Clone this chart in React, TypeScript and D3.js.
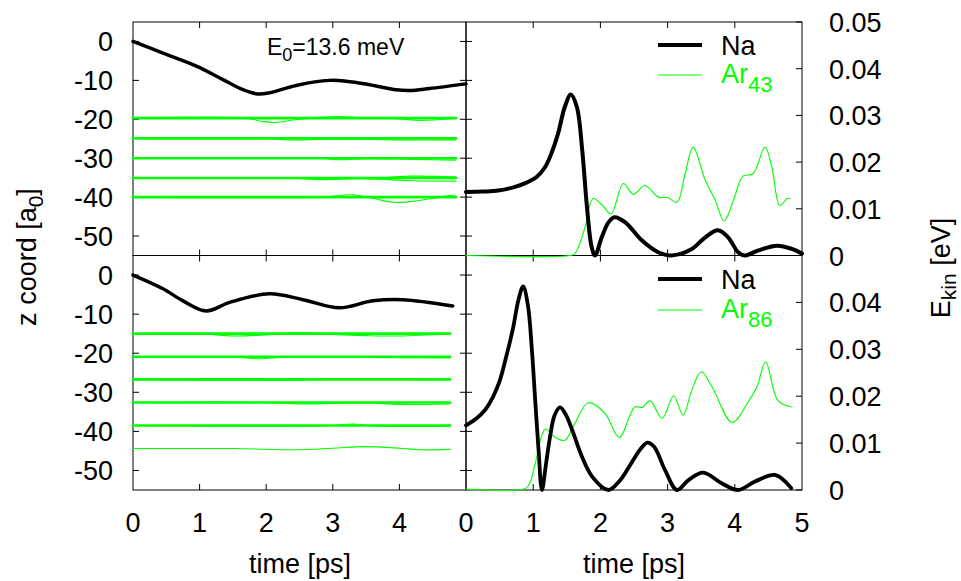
import { useEffect, useRef } from 'react';
import * as d3 from 'd3';

type Pt = [number, number];

// ---- upper row (E0 = 13.6 meV, Ar43) ----
const naZTop: Pt[] = [
  [0, 0], [0.45, -3], [0.96, -6.4], [1.35, -9.8], [1.65, -12.4], [1.87, -13.5],
  [2.05, -13.2], [2.45, -11.3], [2.95, -10], [3.2, -10.2], [3.55, -11.1],
  [3.95, -12.4], [4.15, -12.6], [4.45, -12.1], [5.0, -10.9],
];
const arLayersTop = [-19.7, -24.9, -30.0, -35.1, -40.0];
const arTEndTop = 4.85;
const arWobbleTop: Pt[][] = [
  [[0, -19.7], [1.7, -19.7], [1.95, -20.6], [2.15, -20.8], [2.4, -20.2], [2.8, -19.5], [3.1, -19.3], [3.4, -19.6], [4.0, -19.9], [4.3, -20.3], [4.85, -19.8]],
  [[0, -24.9], [2.0, -24.9], [2.3, -25.3], [3.0, -25.1], [4.0, -25.3], [4.85, -25.3]],
  [[0, -30.0], [2.8, -30.0], [3.1, -30.4], [3.5, -30.1], [4.2, -30.3], [4.85, -30.5]],
  [[0, -35.1], [2.3, -35.1], [2.8, -35.5], [3.5, -35.3], [4.2, -35.8], [4.85, -35.9]],
  [[0, -35.1], [3.5, -35.1], [4.2, -34.6], [4.85, -34.8]],
  [[0, -40.0], [2.8, -40.0], [3.3, -39.4], [3.6, -40.3], [3.9, -41.3], [4.2, -41.1], [4.5, -40.3], [4.75, -39.6], [4.85, -39.8]],
];
const naEkinTop: Pt[] = [
  [0.0, 0.0136], [0.25, 0.0137], [0.48, 0.0139], [0.73, 0.0147], [0.9, 0.0156],
  [1.05, 0.0168], [1.18, 0.019], [1.28, 0.0222], [1.37, 0.0261], [1.47, 0.0318],
  [1.56, 0.0345], [1.65, 0.0318], [1.73, 0.0225], [1.8, 0.0104], [1.87, 0.0018],
  [1.92, 0], [2.02, 0.0039], [2.12, 0.0071], [2.21, 0.0082], [2.37, 0.0071],
  [2.62, 0.0032], [2.86, 0.0007], [3.06, 0], [3.36, 0.0014], [3.56, 0.0039],
  [3.75, 0.0054], [3.9, 0.0039], [4.05, 0.0007], [4.15, 0], [4.35, 0.0011],
  [4.63, 0.0021], [4.85, 0.0014], [5.0, 0.0004],
];
const arEkinTop: Pt[] = [
  [0, 0], [1.55, 0], [1.62, 0.0004], [1.77, 0.006], [1.89, 0.0122], [2.03, 0.0107],
  [2.16, 0.0089], [2.34, 0.0154], [2.49, 0.0131], [2.66, 0.015], [2.86, 0.0125],
  [3.0, 0.0124], [3.14, 0.0114], [3.26, 0.0175], [3.38, 0.0232], [3.56, 0.0161],
  [3.71, 0.0118], [3.84, 0.0074], [3.98, 0.0118], [4.12, 0.017], [4.27, 0.0175],
  [4.45, 0.0232], [4.55, 0.019], [4.67, 0.0107], [4.78, 0.0122], [4.82, 0.0122],
];

// ---- lower row (Ar86) ----
const naZBot: Pt[] = [
  [0, 0], [0.45, -3.5], [0.75, -6.6], [1.1, -9.2], [1.45, -7.0], [2.05, -4.8],
  [2.55, -6.3], [3.1, -8.4], [3.6, -6.6], [4.05, -6.3], [4.8, -7.9],
];
const arLayersBot = [-15.0, -20.9, -26.7, -32.6, -38.5];
const arTEndBot = 4.76;
const arWobbleBot: Pt[][] = [
  [[0, -15], [1.0, -15], [1.5, -15.6], [2.0, -15.3], [2.5, -14.7], [3.0, -15.2], [3.5, -15.5], [4.0, -15.6], [4.76, -15.1]],
  [[0, -20.9], [1.5, -21.0], [1.9, -21.4], [2.3, -21.0], [3.5, -21.1], [4.76, -21.2]],
  [[0, -26.7], [2.5, -26.9], [3.0, -26.6], [4.76, -26.8]],
  [[0, -32.6], [2.0, -32.6], [2.5, -33.0], [3.5, -32.7], [4.0, -33.1], [4.76, -33.0]],
  [[0, -38.5], [3.0, -38.5], [3.3, -38.1], [3.6, -38.6], [4.76, -38.7]],
];
const arLoneBot: Pt[] = [
  [0, -44.4], [1.5, -44.4], [2.5, -44.7], [3.0, -44.3], [3.5, -43.9], [4.0, -44.3], [4.3, -44.7], [4.76, -44.6],
];
const naEkinBot: Pt[] = [
  [0.0, 0.0138], [0.15, 0.0152], [0.28, 0.017], [0.4, 0.0198], [0.5, 0.0232],
  [0.6, 0.0285], [0.7, 0.0345], [0.78, 0.0405], [0.85, 0.0434], [0.92, 0.0395],
  [0.98, 0.03], [1.03, 0.0191], [1.08, 0.0085], [1.13, 0], [1.19, 0.0055],
  [1.25, 0.0113], [1.32, 0.016], [1.4, 0.0176], [1.48, 0.0162], [1.58, 0.0128],
  [1.72, 0.0073], [1.88, 0.0028], [2.12, 0], [2.3, 0.0022], [2.45, 0.0055],
  [2.6, 0.0088], [2.7, 0.0101], [2.8, 0.0092], [2.96, 0.0043], [3.14, 0],
  [3.31, 0.0021], [3.53, 0.0037], [3.81, 0.0014], [4.05, 0], [4.3, 0.0018],
  [4.6, 0.0032], [4.84, 0.0004],
];
const arEkinBot: Pt[] = [
  [0, 0.0002], [0.88, 0.0003], [0.95, 0.0015], [1.03, 0.0057], [1.18, 0.013],
  [1.32, 0.0113], [1.47, 0.0106], [1.62, 0.0142], [1.82, 0.0186], [2.07, 0.0163],
  [2.28, 0.0112], [2.51, 0.0177], [2.62, 0.0176], [2.74, 0.019], [2.92, 0.0153],
  [3.09, 0.0201], [3.23, 0.016], [3.36, 0.0213], [3.5, 0.0252], [3.66, 0.022],
  [3.96, 0.0144], [4.2, 0.0188], [4.33, 0.022], [4.46, 0.0273], [4.64, 0.0191],
  [4.84, 0.0177],
];

const timeTicksLeft = [0, 1, 2, 3, 4];
const timeTicksRight = [0, 1, 2, 3, 4, 5];
const zTicks = [0, -10, -20, -30, -40, -50];
const eTicksTop = [0, 0.01, 0.02, 0.03, 0.04, 0.05];
const eTicksBot = [0, 0.01, 0.02, 0.03, 0.04];

const GREEN = '#00ff00';
const FONT = '"Liberation Sans", Arial, Helvetica, sans-serif';

const App = () => {
  const svgRef = useRef<SVGSVGElement>(null);

  useEffect(() => {
    document.body.style.margin = '0';
    const svg = d3.select(svgRef.current);
    svg.selectAll('*').remove();

    const xL = d3.scaleLinear().domain([0, 5]).range([133, 466]);
    const xR = d3.scaleLinear().domain([0, 5]).range([466, 802]);
    const zTop = d3.scaleLinear().domain([-55, 5]).range([255.5, 22]);
    const zBot = d3.scaleLinear().domain([-55, 5]).range([490, 255.5]);
    const eTop = d3.scaleLinear().domain([0, 0.05]).range([255.5, 22]);
    const eBot = d3.scaleLinear().domain([0, 0.05]).range([490, 255.5]);

    const tk = 6;

    const line = (x: any, y: any) =>
      d3.line<Pt>().x(d => x(d[0])).y(d => y(d[1])).curve(d3.curveCatmullRom.alpha(0.5));

    const drawPath = (data: Pt[], x: any, y: any, color: string, w: number) => {
      svg.append('path')
        .datum(data)
        .attr('d', line(x, y))
        .attr('fill', 'none')
        .attr('stroke', color)
        .attr('stroke-width', w)
        .attr('stroke-linejoin', 'round')
        .attr('stroke-linecap', 'round');
    };

    const frame = (x: any, y: any) => {
      const [x0, x1] = x.range();
      const [y0, y1] = y.range();
      svg.append('rect')
        .attr('x', x0).attr('y', y1)
        .attr('width', x1 - x0).attr('height', y0 - y1)
        .attr('fill', 'none').attr('stroke', '#000').attr('stroke-width', 1);
      // x ticks bottom & top, inward
      const [top, bot] = [y1, y0];
      timeTicksRight.slice(1, 5).forEach(t => {
        svg.append('line').attr('x1', x(t)).attr('x2', x(t)).attr('y1', bot).attr('y2', bot - tk).attr('stroke', '#000');
        svg.append('line').attr('x1', x(t)).attr('x2', x(t)).attr('y1', top).attr('y2', top + tk).attr('stroke', '#000');
      });
    };

    const yTicksBoth = (x: any, y: any) => {
      const [x0, x1] = x.range();
      zTicks.forEach(v => {
        svg.append('line').attr('x1', x0).attr('x2', x0 + tk).attr('y1', y(v)).attr('y2', y(v)).attr('stroke', '#000');
        svg.append('line').attr('x1', x1).attr('x2', x1 - tk).attr('y1', y(v)).attr('y2', y(v)).attr('stroke', '#000');
      });
    };

    const y2Ticks = (x: any, y: any, ticks: number[], zy: any) => {
      const [x0, x1] = x.range();
      ticks.forEach(v => {
        svg.append('line').attr('x1', x1).attr('x2', x1 - tk).attr('y1', y(v)).attr('y2', y(v)).attr('stroke', '#000');
      });
      zTicks.forEach(v => {
        svg.append('line').attr('x1', x0).attr('x2', x0 + tk).attr('y1', zy(v)).attr('y2', zy(v)).attr('stroke', '#000');
      });
    };

    const label = (txt: string, x: number, y: number, anchor: string, size = 27, color = '#000') =>
      svg.append('text')
        .attr('x', x).attr('y', y)
        .attr('text-anchor', anchor)
        .attr('font-family', FONT)
        .attr('font-size', size)
        .attr('fill', color)
        .text(txt);

    // panels
    frame(xL, zTop);
    frame(xL, zBot);
    frame(xR, eTop);
    frame(xR, eBot);
    yTicksBoth(xL, zTop);
    yTicksBoth(xL, zBot);
    y2Ticks(xR, eTop, eTicksTop, zTop);
    y2Ticks(xR, eBot, eTicksBot, zBot);

    // upper left: z coords
    arLayersTop.forEach(z => drawPath([[0, z], [arTEndTop, z]], xL, zTop, GREEN, 2.6));
    arWobbleTop.forEach(d => drawPath(d, xL, zTop, GREEN, 1.1));
    drawPath(naZTop, xL, zTop, '#000', 3.5);

    // lower left
    arLayersBot.forEach(z => drawPath([[0, z], [arTEndBot, z]], xL, zBot, GREEN, 2.6));
    arWobbleBot.forEach(d => drawPath(d, xL, zBot, GREEN, 1.1));
    drawPath(arLoneBot, xL, zBot, GREEN, 1.1);
    drawPath(naZBot, xL, zBot, '#000', 3.5);

    // upper right: kinetic energy
    drawPath(arEkinTop, xR, eTop, GREEN, 1.1);
    drawPath(naEkinTop, xR, eTop, '#000', 4);

    // lower right
    drawPath(arEkinBot, xR, eBot, GREEN, 1.1);
    drawPath(naEkinBot, xR, eBot, '#000', 3.8);

    // tick labels
    zTicks.forEach(v => {
      label(String(v), 113, zTop(v) + 10, 'end');
      label(String(v), 113, zBot(v) + 10, 'end');
    });
    eTicksTop.forEach(v => label(v === 0 ? '0' : d3.format('.2f')(v), 829, eTop(v) + 10, 'start'));
    eTicksBot.forEach(v => label(v === 0 ? '0' : d3.format('.2f')(v), 829, eBot(v) + 10, 'start'));
    timeTicksLeft.forEach(t => label(String(t), xL(t), 532, 'middle'));
    timeTicksRight.forEach(t => label(String(t), xR(t), 532, 'middle'));

    // axis titles
    label('time [ps]', 300, 573, 'middle');
    label('time [ps]', 634, 573, 'middle');

    const zl = svg.append('text')
      .attr('transform', 'translate(36,257) rotate(-90)')
      .attr('text-anchor', 'middle')
      .attr('font-family', FONT).attr('font-size', 27);
    zl.append('tspan').text('z coord [a');
    zl.append('tspan').attr('font-size', 21).attr('dy', 7).text('0');
    zl.append('tspan').attr('dy', -7).text(']');

    const el = svg.append('text')
      .attr('transform', 'translate(950,268) rotate(-90)')
      .attr('text-anchor', 'middle')
      .attr('font-family', FONT).attr('font-size', 27);
    el.append('tspan').text('E');
    el.append('tspan').attr('font-size', 21).attr('dy', 6).text('kin');
    el.append('tspan').attr('dy', -6).text(' [eV]');

    // E0 annotation
    const e0 = svg.append('text')
      .attr('x', 267).attr('y', 55)
      .attr('font-family', FONT).attr('font-size', 23);
    e0.append('tspan').text('E');
    e0.append('tspan').attr('font-size', 18).attr('dy', 6).text('0');
    e0.append('tspan').attr('dy', -6).text('=13.6 meV');

    // legends
    const legend = (naY: number, arY: number, sub: string) => {
      svg.append('line').attr('x1', 658).attr('x2', 702).attr('y1', naY).attr('y2', naY)
        .attr('stroke', '#000').attr('stroke-width', 4);
      label('Na', 721, naY + 10, 'start');
      svg.append('line').attr('x1', 658).attr('x2', 702).attr('y1', arY).attr('y2', arY)
        .attr('stroke', GREEN).attr('stroke-width', 1.1);
      const t = svg.append('text')
        .attr('x', 721).attr('y', arY + 8)
        .attr('font-family', FONT).attr('font-size', 27).attr('fill', GREEN);
      t.append('tspan').text('Ar');
      t.append('tspan').attr('font-size', 22).attr('dy', 9).text(sub);
    };
    legend(45, 75, '43');
    legend(279, 310, '86');
  }, []);

  return <svg ref={svgRef} width={961} height={581} style={{ display: 'block', background: '#fff' }} />;
};

export default App;
